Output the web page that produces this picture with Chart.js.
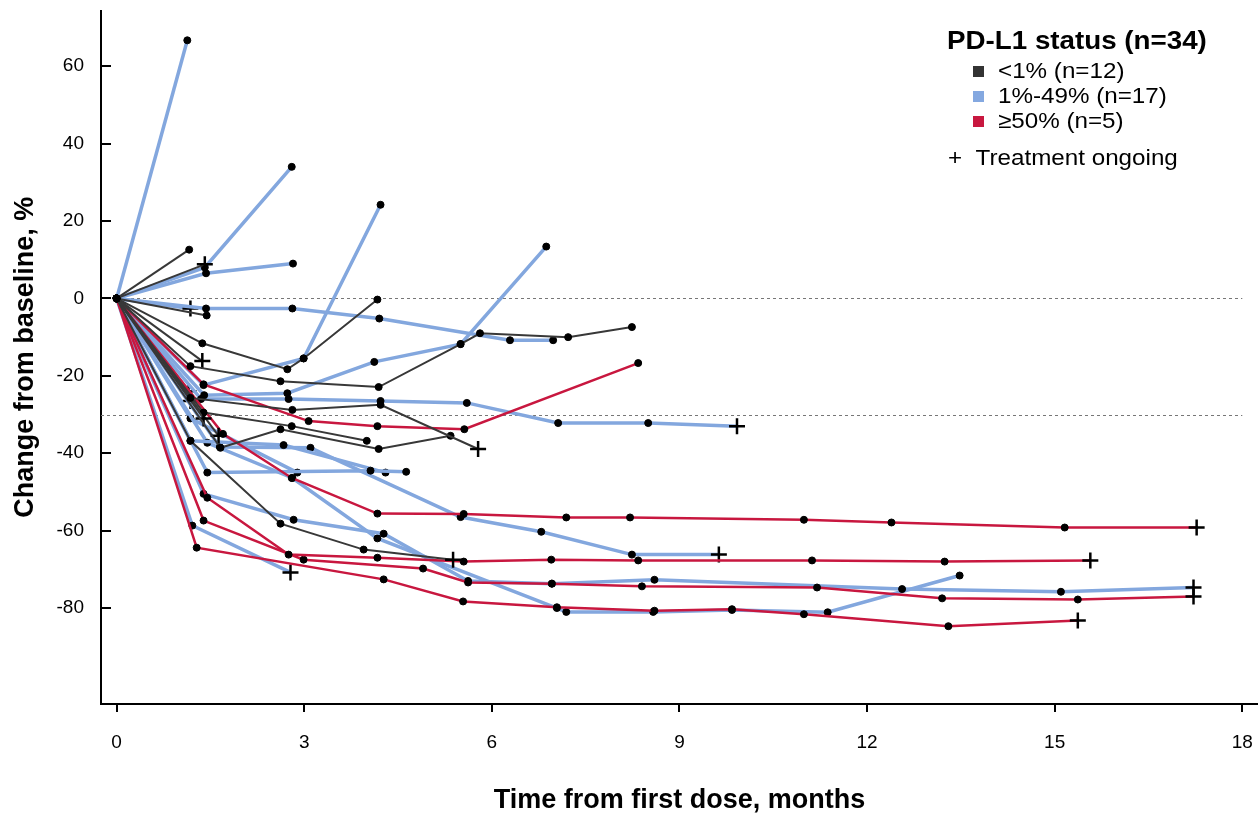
<!DOCTYPE html>
<html><head><meta charset="utf-8">
<script src="https://cdn.jsdelivr.net/npm/chart.js@4.4.1/dist/chart.umd.min.js"></script>
<style>
html,body{margin:0;padding:0;background:#fff;overflow:hidden;}
#wrap{position:relative;width:1258px;height:817px;overflow:hidden;font-family:"Liberation Sans",Arial,sans-serif;color:#000;}
canvas{display:block;}
.lg{position:absolute;white-space:nowrap;line-height:1;transform-origin:0 50%;transform:scaleX(1.1);}
.sq{position:absolute;width:11px;height:11px;}
</style></head><body>
<div id="wrap">
<canvas id="c" width="1272" height="817"></canvas>
<div class="lg" style="left:947px;top:28px;font-size:25px;font-weight:bold;transform:scaleX(1.11);">PD-L1 status (n=34)</div>
<div class="sq" style="left:973px;top:66px;background:#333;"></div>
<div class="lg" style="left:998px;top:60px;font-size:22px;">&lt;1% (n=12)</div>
<div class="sq" style="left:973px;top:91px;background:#84a8e0;"></div>
<div class="lg" style="left:998px;top:85px;font-size:22px;">1%-49% (n=17)</div>
<div class="sq" style="left:973px;top:116px;background:#c8173f;"></div>
<div class="lg" style="left:998px;top:110px;font-size:22px;">≥50% (n=5)</div>
<div class="lg" style="left:948px;top:147px;font-size:22px;">+&nbsp;&nbsp;Treatment ongoing</div>
</div>
<script>
// ---- axis ticks & reference lines ----
const xTicks = [0, 3, 6, 9, 12, 15, 18];
const yTicks = [60, 40, 20, 0, -20, -40, -60, -80];
const refLines = [0, -30];

// ---- patients: [months, % change] ----
// PD-L1 <1% (black)
const k01 = [[0,0],[1.16,12.6]];
const k02 = [[0,0],[1.41,8.8]];
const k03 = [[0,0],[1.37,-11.6],[2.73,-18.3],[2.99,-15.5],[4.17,-0.3]];
const k04 = [[0,0],[1.44,-4.4]];
const k05 = [[0,0],[1.18,-17.5],[2.62,-21.4],[4.19,-22.9],[5.5,-11.8],[5.81,-9],[7.22,-10],[8.24,-7.4]];
const k06 = [[0,0],[1.18,-25.7],[2.81,-28.8],[4.22,-27.5],[5.78,-38.9]];
const k07 = [[0,0],[1.66,-38.6],[2.62,-33.8],[4.19,-38.9],[5.34,-35.5]];
const k08 = [[0,0],[1.18,-36.8],[2.62,-58.2],[3.95,-64.9],[5.38,-67.5]];
const k09 = [[0,0],[1.37,-16.2]];
const k10 = [[0,0],[1.39,-31]];
const k11 = [[0,0],[1.39,-29.5],[2.8,-33],[4.0,-36.8]];
const k12 = [[0,0],[1.63,-35.5]];
// PD-L1 1%-49% (blue)
const b01 = [[0,0],[1.13,66.7]];
const b02 = [[0,0],[1.41,8],[2.8,34]];
const b03 = [[0,0],[1.39,-22.4],[2.99,-15.5],[4.22,24.2]];
const b04 = [[0,0],[1.43,6.5],[2.82,9]];
const b05 = [[0,0],[1.4,-25],[2.73,-24.5],[4.12,-16.4],[5.5,-11.8],[6.87,13.4]];
const b06 = [[0,0],[1.43,-2.6],[2.81,-2.6],[4.2,-5.2],[6.29,-10.8],[6.98,-10.8]];
const b07 = [[0,0],[1.35,-26],[2.75,-26],[4.22,-26.5],[5.6,-27],[7.06,-32.2],[8.5,-32.2],[9.92,-33]];
const b08 = [[0,0],[1.45,-45],[4.06,-44.5],[4.63,-44.8]];
const b09 = [[0,0],[1.18,-36.8],[2.67,-37.9],[4.3,-45]];
const b10 = [[0,0],[1.65,-38.4],[3.1,-38.6],[5.5,-56.5],[6.79,-60.3],[8.24,-66.2],[9.63,-66.2]];
const b11 = [[0,0],[1.39,-50.5],[2.83,-57.2],[4.27,-60.8],[5.62,-73],[6.96,-73.7],[8.6,-72.7],[12.56,-75.1],[15.1,-75.8],[17.22,-74.7]];
const b12 = [[0,0],[1.45,-37.3],[2.81,-46.4],[4.17,-62],[7.04,-80],[7.19,-81],[8.58,-81],[9.84,-80.5],[11.37,-81.1],[13.48,-71.6]];
const b13 = [[0,0],[1.21,-58.7],[2.78,-70.8]];
const b14 = [[0,0],[1.18,-2.6]];
const b15 = [[0,0],[1.15,-24]];
const b16 = [[0,0],[1.18,-26.5]];
const b17 = [[0,0],[1.18,-31],[2.89,-45]];
// PD-L1 >=50% (red)
const r01 = [[0,0],[1.7,-35],[2.8,-46.4],[4.17,-55.6],[5.55,-55.7],[7.19,-56.6],[8.21,-56.6],[10.99,-57.2],[12.39,-57.9],[15.16,-59.2],[17.27,-59.2]];
const r02 = [[0,0],[1.45,-51.5],[2.75,-66.2],[4.17,-67],[5.55,-68],[6.95,-67.5],[8.34,-67.7],[11.12,-67.7],[13.24,-68],[15.57,-67.7]];
const r03 = [[0,0],[1.28,-64.4],[4.27,-72.6],[5.54,-78.3],[7.04,-79.8],[8.6,-80.7],[9.84,-80.3],[10.99,-81.6],[13.3,-84.7],[15.37,-83.2]];
const r04 = [[0,0],[1.39,-57.4],[2.99,-67.5],[4.9,-69.8],[5.62,-73.4],[6.96,-73.7],[8.4,-74.4],[11.2,-74.7],[13.2,-77.5],[15.37,-77.8],[17.22,-77]];
const r05 = [[0,0],[1.39,-22.2],[3.07,-31.7],[4.17,-33],[5.56,-33.8],[8.34,-16.7]];

const groupBlack = [k01,k02,k03,k04,k05,k06,k07,k08,k09,k10,k11,k12];
const groupBlue  = [b01,b02,b03,b04,b05,b06,b07,b08,b09,b10,b11,b12,b13,b14,b15,b16,b17];
const groupRed   = [r01,r02,r03,r04,r05];
const ongoing = [k02,k06,k08,k09,k10,k12,b07,b10,b11,b13,b14,b15,b16,r01,r02,r03,r04];

const FONT = '"Liberation Sans", Arial, sans-serif';
const groups = [
  {list: groupBlack, color: '#383838', width: 2, order: 1},
  {list: groupRed,   color: '#c8173f', width: 2.5, order: 2},
  {list: groupBlue,  color: '#83a7de', width: 3.5, order: 3}
];
const datasets = [];
groups.forEach(g => {
  g.list.forEach(p => {
    const on = ongoing.includes(p);
    const n = p.length;
    datasets.push({
      data: p.map(([x, y]) => ({x, y})),
      showLine: true,
      borderColor: g.color,
      borderWidth: g.width,
      order: g.order,
      pointStyle: p.map((_, i) => (on && i === n - 1) ? 'cross' : 'circle'),
      pointRadius: p.map((_, i) => (on && i === n - 1) ? 8 : 3.5),
      pointBorderWidth: p.map((_, i) => (on && i === n - 1) ? 2.5 : 1),
      pointBackgroundColor: '#000',
      pointBorderColor: '#000',
      tension: 0
    });
  });
});

const refPlugin = {
  id: 'refLines',
  beforeDatasetsDraw(chart) {
    const {ctx, chartArea, scales: {x, y}} = chart;
    ctx.save();
    ctx.strokeStyle = '#777';
    ctx.lineWidth = 1;
    ctx.setLineDash([3, 3]);
    refLines.forEach(v => {
      const py = Math.round(y.getPixelForValue(v)) + 0.5;
      ctx.beginPath();
      ctx.moveTo(chartArea.left, py);
      ctx.lineTo(x.getPixelForValue(18), py);
      ctx.stroke();
    });
    ctx.setLineDash([]);
    ctx.strokeStyle = '#000';
    ctx.lineWidth = 2;
    yTicks.forEach(v => {
      const py = Math.round(y.getPixelForValue(v));
      ctx.beginPath();
      ctx.moveTo(chartArea.left, py);
      ctx.lineTo(chartArea.left + 10, py);
      ctx.stroke();
    });
    ctx.restore();
  }
};

new Chart(document.getElementById('c'), {
  type: 'scatter',
  data: {datasets},
  options: {
    responsive: false,
    animation: false,
    devicePixelRatio: 1,
    layout: {padding: {top: 8, right: 0, left: 0, bottom: 0}},
    plugins: {legend: {display: false}, tooltip: {enabled: false}},
    scales: {
      x: {
        type: 'linear', min: -0.25, max: 18.25,
        afterBuildTicks: s => { s.ticks = xTicks.map(v => ({value: v})); },
        afterFit: s => { s.height = 113; },
        ticks: {font: {family: FONT, size: 19}, color: '#000', padding: 19, maxRotation: 0},
        grid: {drawOnChartArea: false, drawTicks: true, tickLength: 8, color: '#000', lineWidth: 2},
        border: {display: true, color: '#000', width: 2},
        title: {display: true, text: 'Time from first dose, months', color: '#000',
                font: {family: FONT, size: 27, weight: 'bold', lineHeight: 1.2}, padding: {top: 0, bottom: 0}}
      },
      y: {
        type: 'linear', min: -104.8, max: 74.4,
        afterBuildTicks: s => { s.ticks = yTicks.map(v => ({value: v})); },
        afterFit: s => { s.width = 101; s.paddingTop = 0; s.paddingBottom = 0; },
        ticks: {font: {family: FONT, size: 19}, color: '#000', padding: 17},
        grid: {drawOnChartArea: false, drawTicks: false},
        border: {display: true, color: '#000', width: 2},
        title: {display: true, text: 'Change from baseline, %', color: '#000',
                font: {family: FONT, size: 27, weight: 'bold', lineHeight: 1.2}, padding: {top: 9, bottom: 0}}
      }
    }
  },
  plugins: [refPlugin]
});
</script>
</body></html>
